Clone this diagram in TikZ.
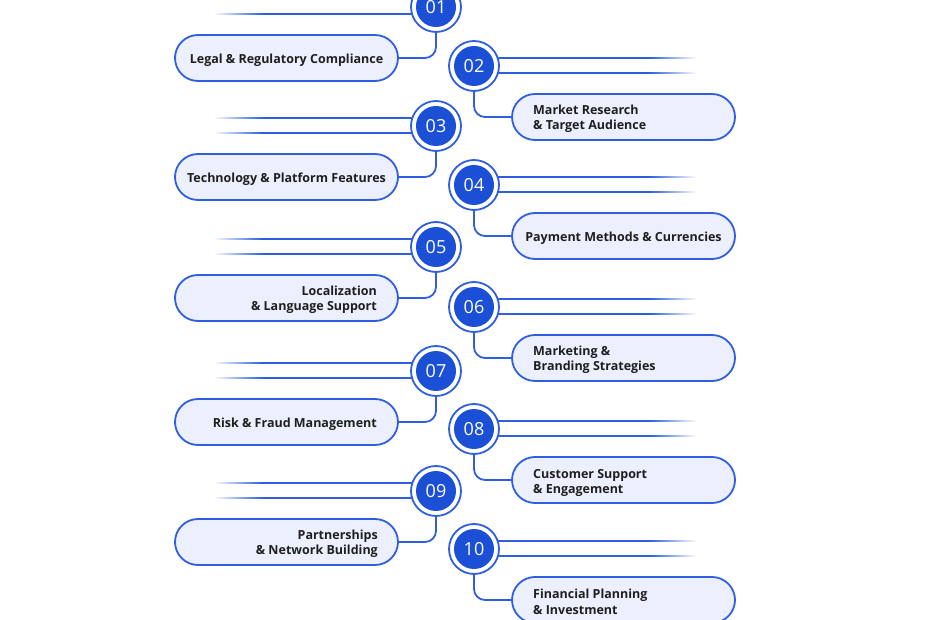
\documentclass[tikz,border=0pt]{standalone}
\usepackage{fontspec}
\setmainfont{Open Sans}
\definecolor{dblue}{HTML}{1A4FD6}
\definecolor{lblue}{HTML}{2F5FE0}
\definecolor{pillfill}{HTML}{ECEFFD}
\definecolor{txt}{HTML}{1F1F1F}
\begin{document}
\begin{tikzpicture}[x=1pt,y=-1pt,
  ring/.style={circle, draw=lblue, line width=1.8pt, fill=white, minimum size=50pt, inner sep=0pt},
  num/.style={circle, fill=dblue, minimum size=40pt, inner sep=0pt, text=white, font=\fontsize{18}{18}\selectfont},
  pill/.style={draw=lblue, line width=1.8pt, fill=pillfill, rounded corners=23pt, minimum width=223pt, minimum height=46pt, inner sep=0pt},
  lbl/.style={text=txt, font=\bfseries\fontsize{12.5}{15.5}\selectfont, inner sep=0pt, yshift=-2pt},
  conn/.style={draw=lblue, line width=1.8pt, rounded corners=11pt},
  ln/.style={draw=lblue, line width=1.8pt}]
\useasboundingbox (0,0) rectangle (930,620);
% left items
\foreach \i/\cy/\num in {1/7/01,3/126/03,5/247/05,7/371/07,9/491/09}{
  \node[ring] (c\i) at (436,\cy) {};
  \node[num] (n\i) at (c\i.center) {\num};
  \node[pill] (p\i) at (286.5,\cy+51) {};
  \draw[conn] (c\i.south) |- (p\i.east);
  \shade[left color=white,right color=lblue] (213,\cy-8.9) rectangle (262,\cy-7.1);
  \shade[left color=white,right color=lblue] (213,\cy+6.1) rectangle (262,\cy+7.9);
  \coordinate (a\i) at (262,\cy-8);
  \coordinate (b\i) at (262,\cy+7);
  \coordinate (e\i) at ([shift={(-23.8,-8)}]c\i.center);
  \coordinate (f\i) at ([shift={(-24.2,7)}]c\i.center);
  \draw[ln] (a\i) -- (e\i);
  \draw[ln] (b\i) -- (f\i);
}
% right items
\foreach \i/\cy/\num in {2/66/02,4/185/04,6/307/06,8/429/08,10/549/10}{
  \node[ring] (c\i) at (474,\cy) {};
  \node[num] (n\i) at (c\i.center) {\num};
  \node[pill] (p\i) at (623.5,\cy+51) {};
  \draw[conn] (c\i.south) |- (p\i.west);
  \shade[left color=lblue,right color=white] (650,\cy-8.9) rectangle (697,\cy-7.1);
  \shade[left color=lblue,right color=white] (650,\cy+6.1) rectangle (697,\cy+7.9);
  \coordinate (a\i) at (650,\cy-8);
  \coordinate (b\i) at (650,\cy+7);
  \coordinate (e\i) at ([shift={(23.8,-8)}]c\i.center);
  \coordinate (f\i) at ([shift={(24.2,7)}]c\i.center);
  \draw[ln] (e\i) -- (a\i);
  \draw[ln] (f\i) -- (b\i);
}
% labels
\node[lbl] (t1) at (p1.center) {Legal \& Regulatory Compliance};
\node[lbl, anchor=west, align=left] (t2) at (533,117) {Market Research\\\& Target Audience};
\node[lbl] (t3) at (p3.center) {Technology \& Platform Features};
\node[lbl] (t4) at (p4.center) {Payment Methods \& Currencies};
\node[lbl, anchor=east, align=right] (t5) at (377,298) {Localization\\\& Language Support};
\node[lbl, anchor=west, align=left] (t6) at (533,358) {Marketing \&\\Branding Strategies};
\node[lbl, anchor=east, align=right] (t7) at (377,422) {Risk \& Fraud Management};
\node[lbl, anchor=west, align=left] (t8) at (533,481) {Customer Support\\\& Engagement};
\node[lbl, anchor=east, align=right] (t9) at (378,542) {Partnerships\\\& Network Building};
\node[lbl, anchor=west, align=left] (t10) at (533,600) {Financial Planning\\\& Investment};
\end{tikzpicture}
\end{document}
